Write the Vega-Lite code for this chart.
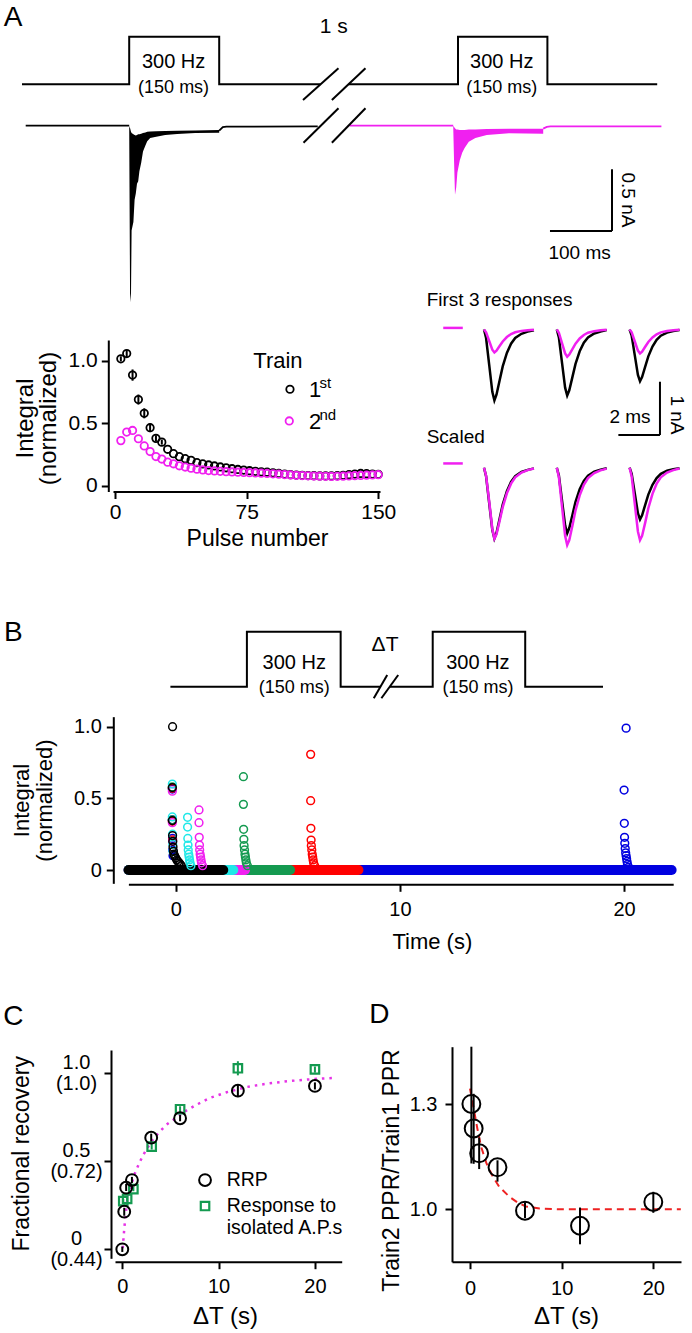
{
"$schema": "https://vega.github.io/schema/vega-lite/v6.json",
"width": 692, "height": 1333, "padding": 0, "autosize": {"type": "none"},
"background": "white",
"config": {
 "view": {"stroke": null},
 "font": "Liberation Sans",
 "axis": {"grid": false, "domainColor": "black", "tickColor": "black", "labelColor": "black", "titleColor": "black", "domainWidth": 2, "tickWidth": 2, "tickSize": 7, "labelFont": "Liberation Sans", "titleFont": "Liberation Sans", "titleFontWeight": "normal", "labelOverlap": false, "labelFlush": false, "titleAlign": "center", "titleBaseline": "middle"},
 "text": {"font": "Liberation Sans", "color": "black"}
},
"datasets": {
"a_stim": [
{"k":"ln","g":"s1","x":-178.7,"y":0},{"k":"ln","g":"s1","x":0,"y":0},{"k":"ln","g":"s1","x":0,"y":1},{"k":"ln","g":"s1","x":150,"y":1},{"k":"ln","g":"s1","x":150,"y":0},{"k":"ln","g":"s1","x":319,"y":0},
{"k":"ln","g":"s2","x":365.5,"y":0},{"k":"ln","g":"s2","x":548,"y":0},{"k":"ln","g":"s2","x":548,"y":1},{"k":"ln","g":"s2","x":697,"y":1},{"k":"ln","g":"s2","x":697,"y":0},{"k":"ln","g":"s2","x":880,"y":0},
{"k":"ln","g":"sl1","x":289.7,"y":-0.33},{"k":"ln","g":"sl1","x":348.8,"y":0.336},
{"k":"ln","g":"sl2","x":337.8,"y":-0.33},{"k":"ln","g":"sl2","x":393.8,"y":0.336},
{"k":"lab","txt":"A","x":-193.7,"y":1.39},
{"k":"big","txt":"1 s","x":341,"y":1.21},
{"k":"hz","txt":"300 Hz","x":74,"y":0.475},{"k":"hz","txt":"300 Hz","x":621,"y":0.475},
{"k":"ms","txt":"(150 ms)","x":74,"y":-0.07},{"k":"ms","txt":"(150 ms)","x":621,"y":-0.07}
],
"a_trace": [
{"k":"ln","tr":"1st","g":"bpre","x":-172.5,"y":0},{"k":"ln","tr":"1st","g":"bpre","x":0,"y":0},
{"k":"ln","tr":"1st","g":"bpost","x":150,"y":-0.04},{"k":"ln","tr":"1st","g":"bpost","x":156,"y":-0.012},{"k":"ln","tr":"1st","g":"bpost","x":162,"y":-0.008},{"k":"ln","tr":"1st","g":"bpost","x":314.2,"y":-0.006},
{"k":"ln","tr":"2nd","g":"mpre","x":367.3,"y":0},{"k":"ln","tr":"2nd","g":"mpre","x":540,"y":0},
{"k":"ln","tr":"2nd","g":"mpost","x":690,"y":-0.024},{"k":"ln","tr":"2nd","g":"mpost","x":696,"y":-0.01},{"k":"ln","tr":"2nd","g":"mpost","x":702,"y":-0.006},{"k":"ln","tr":"2nd","g":"mpost","x":887,"y":-0.005},
{"k":"ar","tr":"1st","x":0,"y":0,"y2":0},
{"k":"ar","tr":"1st","x":0.5,"y":-0.5,"y2":-0.01},
{"k":"ar","tr":"1st","x":1.5,"y":-1.43,"y2":-0.02},
{"k":"ar","tr":"1st","x":3,"y":-1.36,"y2":-0.05},
{"k":"ar","tr":"1st","x":4,"y":-0.85,"y2":-0.06},
{"k":"ar","tr":"1st","x":7,"y":-0.78,"y2":-0.07},
{"k":"ar","tr":"1st","x":9,"y":-0.6,"y2":-0.075},
{"k":"ar","tr":"1st","x":11,"y":-0.55,"y2":-0.08},
{"k":"ar","tr":"1st","x":13,"y":-0.47,"y2":-0.075},
{"k":"ar","tr":"1st","x":15,"y":-0.45,"y2":-0.07},
{"k":"ar","tr":"1st","x":17,"y":-0.37,"y2":-0.07},
{"k":"ar","tr":"1st","x":20,"y":-0.3,"y2":-0.065},
{"k":"ar","tr":"1st","x":23,"y":-0.21,"y2":-0.06},
{"k":"ar","tr":"1st","x":27,"y":-0.16,"y2":-0.055},
{"k":"ar","tr":"1st","x":30,"y":-0.125,"y2":-0.05},
{"k":"ar","tr":"1st","x":35,"y":-0.1,"y2":-0.048},
{"k":"ar","tr":"1st","x":45,"y":-0.09,"y2":-0.045},
{"k":"ar","tr":"1st","x":60,"y":-0.075,"y2":-0.043},
{"k":"ar","tr":"1st","x":80,"y":-0.067,"y2":-0.04},
{"k":"ar","tr":"1st","x":110,"y":-0.06,"y2":-0.038},
{"k":"ar","tr":"1st","x":150,"y":-0.057,"y2":-0.035},
{"k":"ar","tr":"2nd","x":540,"y":0,"y2":0},
{"k":"ar","tr":"2nd","x":541.5,"y":-0.3,"y2":-0.01},
{"k":"ar","tr":"2nd","x":543,"y":-0.56,"y2":-0.02},
{"k":"ar","tr":"2nd","x":545,"y":-0.5,"y2":-0.03},
{"k":"ar","tr":"2nd","x":547,"y":-0.38,"y2":-0.03},
{"k":"ar","tr":"2nd","x":551,"y":-0.28,"y2":-0.035},
{"k":"ar","tr":"2nd","x":555,"y":-0.22,"y2":-0.035},
{"k":"ar","tr":"2nd","x":559,"y":-0.18,"y2":-0.035},
{"k":"ar","tr":"2nd","x":566,"y":-0.13,"y2":-0.03},
{"k":"ar","tr":"2nd","x":577,"y":-0.1,"y2":-0.03},
{"k":"ar","tr":"2nd","x":596,"y":-0.075,"y2":-0.027},
{"k":"ar","tr":"2nd","x":633,"y":-0.062,"y2":-0.024},
{"k":"ar","tr":"2nd","x":690,"y":-0.065,"y2":-0.024},
{"k":"sl","g":"ls1","x":290.5,"y":-0.138},{"k":"sl","g":"ls1","x":348.8,"y":0.141},
{"k":"sl","g":"ls2","x":337.8,"y":-0.138},{"k":"sl","g":"ls2","x":393.8,"y":0.141},
{"k":"sb","x":804.7,"y":-0.353,"x2":804.7,"y2":-0.853},
{"k":"sb","x":701.3,"y":-0.853,"x2":804.7,"y2":-0.853},
{"k":"tv","txt":"0.5 nA","x":831.8,"y":-0.602},
{"k":"th","txt":"100 ms","x":750.7,"y":-1.034}
],
"a_sc": [
{"k":"pt","tr":"1st","x":3.33,"y":1.015},{"k":"pt","tr":"1st","x":6.67,"y":1.057},{"k":"pt","tr":"1st","x":10,"y":0.885},{"k":"pt","tr":"1st","x":13.33,"y":0.69},{"k":"pt","tr":"1st","x":16.67,"y":0.58},
{"k":"pt","tr":"1st","x":20,"y":0.465},{"k":"pt","tr":"1st","x":23.33,"y":0.38},{"k":"pt","tr":"1st","x":26.67,"y":0.35},{"k":"pt","tr":"1st","x":30,"y":0.293},{"k":"pt","tr":"1st","x":33.33,"y":0.258},
{"k":"pt","tr":"1st","x":36.67,"y":0.234},{"k":"pt","tr":"1st","x":40,"y":0.218},{"k":"pt","tr":"1st","x":43.33,"y":0.205},{"k":"pt","tr":"1st","x":46.67,"y":0.186},{"k":"pt","tr":"1st","x":50,"y":0.176},
{"k":"pt","tr":"1st","x":53.33,"y":0.168},{"k":"pt","tr":"1st","x":56.67,"y":0.16},{"k":"pt","tr":"1st","x":60,"y":0.152},{"k":"pt","tr":"1st","x":63.33,"y":0.145},{"k":"pt","tr":"1st","x":66.67,"y":0.138},
{"k":"pt","tr":"1st","x":70,"y":0.132},{"k":"pt","tr":"1st","x":73.33,"y":0.127},{"k":"pt","tr":"1st","x":76.67,"y":0.122},{"k":"pt","tr":"1st","x":80,"y":0.117},{"k":"pt","tr":"1st","x":83.33,"y":0.113},
{"k":"pt","tr":"1st","x":86.67,"y":0.11},{"k":"pt","tr":"1st","x":90,"y":0.105},{"k":"pt","tr":"1st","x":93.33,"y":0.1},{"k":"pt","tr":"1st","x":96.67,"y":0.095},{"k":"pt","tr":"1st","x":100,"y":0.09},
{"k":"pt","tr":"1st","x":103.33,"y":0.087},{"k":"pt","tr":"1st","x":106.67,"y":0.085},{"k":"pt","tr":"1st","x":110,"y":0.083},{"k":"pt","tr":"1st","x":113.33,"y":0.082},{"k":"pt","tr":"1st","x":116.67,"y":0.08},
{"k":"pt","tr":"1st","x":120,"y":0.08},{"k":"pt","tr":"1st","x":123.33,"y":0.08},{"k":"pt","tr":"1st","x":126.67,"y":0.082},{"k":"pt","tr":"1st","x":130,"y":0.085},{"k":"pt","tr":"1st","x":133.33,"y":0.09},
{"k":"pt","tr":"1st","x":136.67,"y":0.095},{"k":"pt","tr":"1st","x":140,"y":0.1},{"k":"pt","tr":"1st","x":143.33,"y":0.098},{"k":"pt","tr":"1st","x":146.67,"y":0.095},{"k":"pt","tr":"1st","x":150,"y":0.093},
{"k":"pt","tr":"2nd","x":3.33,"y":0.362},{"k":"pt","tr":"2nd","x":6.67,"y":0.43},{"k":"pt","tr":"2nd","x":10,"y":0.443},{"k":"pt","tr":"2nd","x":13.33,"y":0.377},{"k":"pt","tr":"2nd","x":16.67,"y":0.32},
{"k":"pt","tr":"2nd","x":20,"y":0.275},{"k":"pt","tr":"2nd","x":23.33,"y":0.235},{"k":"pt","tr":"2nd","x":26.67,"y":0.215},{"k":"pt","tr":"2nd","x":30,"y":0.19},{"k":"pt","tr":"2nd","x":33.33,"y":0.177},
{"k":"pt","tr":"2nd","x":36.67,"y":0.161},{"k":"pt","tr":"2nd","x":40,"y":0.151},{"k":"pt","tr":"2nd","x":43.33,"y":0.142},{"k":"pt","tr":"2nd","x":46.67,"y":0.134},{"k":"pt","tr":"2nd","x":50,"y":0.128},
{"k":"pt","tr":"2nd","x":53.33,"y":0.123},{"k":"pt","tr":"2nd","x":56.67,"y":0.12},{"k":"pt","tr":"2nd","x":60,"y":0.117},{"k":"pt","tr":"2nd","x":63.33,"y":0.114},{"k":"pt","tr":"2nd","x":66.67,"y":0.112},
{"k":"pt","tr":"2nd","x":70,"y":0.11},{"k":"pt","tr":"2nd","x":73.33,"y":0.108},{"k":"pt","tr":"2nd","x":76.67,"y":0.106},{"k":"pt","tr":"2nd","x":80,"y":0.104},{"k":"pt","tr":"2nd","x":83.33,"y":0.102},
{"k":"pt","tr":"2nd","x":86.67,"y":0.1},{"k":"pt","tr":"2nd","x":90,"y":0.097},{"k":"pt","tr":"2nd","x":93.33,"y":0.094},{"k":"pt","tr":"2nd","x":96.67,"y":0.091},{"k":"pt","tr":"2nd","x":100,"y":0.088},
{"k":"pt","tr":"2nd","x":103.33,"y":0.085},{"k":"pt","tr":"2nd","x":106.67,"y":0.083},{"k":"pt","tr":"2nd","x":110,"y":0.081},{"k":"pt","tr":"2nd","x":113.33,"y":0.079},{"k":"pt","tr":"2nd","x":116.67,"y":0.078},
{"k":"pt","tr":"2nd","x":120,"y":0.077},{"k":"pt","tr":"2nd","x":123.33,"y":0.076},{"k":"pt","tr":"2nd","x":126.67,"y":0.077},{"k":"pt","tr":"2nd","x":130,"y":0.078},{"k":"pt","tr":"2nd","x":133.33,"y":0.08},
{"k":"pt","tr":"2nd","x":136.67,"y":0.082},{"k":"pt","tr":"2nd","x":140,"y":0.084},{"k":"pt","tr":"2nd","x":143.33,"y":0.086},{"k":"pt","tr":"2nd","x":146.67,"y":0.088},{"k":"pt","tr":"2nd","x":150,"y":0.09},
{"k":"eb","tr":"1st","x":3.33,"y":0.995,"y2":1.035},{"k":"eb","tr":"1st","x":6.67,"y":1.027,"y2":1.087},{"k":"eb","tr":"1st","x":10,"y":0.84,"y2":0.93},{"k":"eb","tr":"1st","x":13.33,"y":0.65,"y2":0.73},
{"k":"eb","tr":"1st","x":16.67,"y":0.54,"y2":0.62},{"k":"eb","tr":"1st","x":20,"y":0.43,"y2":0.5},{"k":"eb","tr":"1st","x":23.33,"y":0.355,"y2":0.405},{"k":"eb","tr":"1st","x":26.67,"y":0.33,"y2":0.37},
{"k":"lg","tr":"1st","x":99.7,"y":0.772},{"k":"lg","tr":"2nd","x":99.3,"y":0.519},
{"k":"t21","txt":"Train","x":78.8,"y":1.0},{"k":"t21","txt":"1","x":110.5,"y":0.766},{"k":"t21","txt":"2","x":110.5,"y":0.513},
{"k":"sup","txt":"st","x":116.5,"y":0.82},{"k":"sup","txt":"nd","x":116.5,"y":0.567}
],
"a_sm1": [
{"k":"tr","tr":"1st","g":"k1","x":0,"y":0},{"k":"tr","tr":"1st","g":"k1","x":0.1,"y":-0.16},{"k":"tr","tr":"1st","g":"k1","x":0.25,"y":-0.665},{"k":"tr","tr":"1st","g":"k1","x":0.4,"y":-1.17},{"k":"tr","tr":"1st","g":"k1","x":0.5,"y":-1.33},{"k":"tr","tr":"1st","g":"k1","x":0.6,"y":-1.224},{"k":"tr","tr":"1st","g":"k1","x":0.75,"y":-0.958},{"k":"tr","tr":"1st","g":"k1","x":0.9,"y":-0.692},{"k":"tr","tr":"1st","g":"k1","x":1.1,"y":-0.439},{"k":"tr","tr":"1st","g":"k1","x":1.3,"y":-0.266},{"k":"tr","tr":"1st","g":"k1","x":1.5,"y":-0.16},{"k":"tr","tr":"1st","g":"k1","x":1.8,"y":-0.08},{"k":"tr","tr":"1st","g":"k1","x":2.1,"y":-0.04},{"k":"tr","tr":"1st","g":"k1","x":2.4,"y":-0.013},
{"k":"tr","tr":"1st","g":"k2","x":3.5,"y":0},{"k":"tr","tr":"1st","g":"k2","x":3.6,"y":-0.149},{"k":"tr","tr":"1st","g":"k2","x":3.75,"y":-0.62},{"k":"tr","tr":"1st","g":"k2","x":3.9,"y":-1.091},{"k":"tr","tr":"1st","g":"k2","x":4,"y":-1.24},{"k":"tr","tr":"1st","g":"k2","x":4.1,"y":-1.141},{"k":"tr","tr":"1st","g":"k2","x":4.25,"y":-0.893},{"k":"tr","tr":"1st","g":"k2","x":4.4,"y":-0.645},{"k":"tr","tr":"1st","g":"k2","x":4.6,"y":-0.409},{"k":"tr","tr":"1st","g":"k2","x":4.8,"y":-0.248},{"k":"tr","tr":"1st","g":"k2","x":5,"y":-0.149},{"k":"tr","tr":"1st","g":"k2","x":5.3,"y":-0.074},{"k":"tr","tr":"1st","g":"k2","x":5.6,"y":-0.037},{"k":"tr","tr":"1st","g":"k2","x":5.9,"y":-0.012},
{"k":"tr","tr":"1st","g":"k3","x":7,"y":0},{"k":"tr","tr":"1st","g":"k3","x":7.1,"y":-0.116},{"k":"tr","tr":"1st","g":"k3","x":7.25,"y":-0.485},{"k":"tr","tr":"1st","g":"k3","x":7.4,"y":-0.854},{"k":"tr","tr":"1st","g":"k3","x":7.5,"y":-0.97},{"k":"tr","tr":"1st","g":"k3","x":7.6,"y":-0.892},{"k":"tr","tr":"1st","g":"k3","x":7.75,"y":-0.698},{"k":"tr","tr":"1st","g":"k3","x":7.9,"y":-0.504},{"k":"tr","tr":"1st","g":"k3","x":8.1,"y":-0.32},{"k":"tr","tr":"1st","g":"k3","x":8.3,"y":-0.194},{"k":"tr","tr":"1st","g":"k3","x":8.5,"y":-0.116},{"k":"tr","tr":"1st","g":"k3","x":8.8,"y":-0.058},{"k":"tr","tr":"1st","g":"k3","x":9.1,"y":-0.029},{"k":"tr","tr":"1st","g":"k3","x":9.4,"y":-0.01},
{"k":"tr","tr":"2nd","g":"m1","x":0,"y":0},{"k":"tr","tr":"2nd","g":"m1","x":0.1,"y":-0.052},{"k":"tr","tr":"2nd","g":"m1","x":0.25,"y":-0.215},{"k":"tr","tr":"2nd","g":"m1","x":0.4,"y":-0.378},{"k":"tr","tr":"2nd","g":"m1","x":0.5,"y":-0.43},{"k":"tr","tr":"2nd","g":"m1","x":0.6,"y":-0.396},{"k":"tr","tr":"2nd","g":"m1","x":0.75,"y":-0.31},{"k":"tr","tr":"2nd","g":"m1","x":0.9,"y":-0.224},{"k":"tr","tr":"2nd","g":"m1","x":1.1,"y":-0.142},{"k":"tr","tr":"2nd","g":"m1","x":1.3,"y":-0.086},{"k":"tr","tr":"2nd","g":"m1","x":1.5,"y":-0.052},{"k":"tr","tr":"2nd","g":"m1","x":1.8,"y":-0.026},{"k":"tr","tr":"2nd","g":"m1","x":2.1,"y":-0.013},{"k":"tr","tr":"2nd","g":"m1","x":2.4,"y":-0.004},
{"k":"tr","tr":"2nd","g":"m2","x":3.5,"y":0},{"k":"tr","tr":"2nd","g":"m2","x":3.6,"y":-0.061},{"k":"tr","tr":"2nd","g":"m2","x":3.75,"y":-0.255},{"k":"tr","tr":"2nd","g":"m2","x":3.9,"y":-0.449},{"k":"tr","tr":"2nd","g":"m2","x":4,"y":-0.51},{"k":"tr","tr":"2nd","g":"m2","x":4.1,"y":-0.469},{"k":"tr","tr":"2nd","g":"m2","x":4.25,"y":-0.367},{"k":"tr","tr":"2nd","g":"m2","x":4.4,"y":-0.265},{"k":"tr","tr":"2nd","g":"m2","x":4.6,"y":-0.168},{"k":"tr","tr":"2nd","g":"m2","x":4.8,"y":-0.102},{"k":"tr","tr":"2nd","g":"m2","x":5,"y":-0.061},{"k":"tr","tr":"2nd","g":"m2","x":5.3,"y":-0.031},{"k":"tr","tr":"2nd","g":"m2","x":5.6,"y":-0.015},{"k":"tr","tr":"2nd","g":"m2","x":5.9,"y":-0.005},
{"k":"tr","tr":"2nd","g":"m3","x":7,"y":0},{"k":"tr","tr":"2nd","g":"m3","x":7.1,"y":-0.054},{"k":"tr","tr":"2nd","g":"m3","x":7.25,"y":-0.225},{"k":"tr","tr":"2nd","g":"m3","x":7.4,"y":-0.396},{"k":"tr","tr":"2nd","g":"m3","x":7.5,"y":-0.45},{"k":"tr","tr":"2nd","g":"m3","x":7.6,"y":-0.414},{"k":"tr","tr":"2nd","g":"m3","x":7.75,"y":-0.324},{"k":"tr","tr":"2nd","g":"m3","x":7.9,"y":-0.234},{"k":"tr","tr":"2nd","g":"m3","x":8.1,"y":-0.149},{"k":"tr","tr":"2nd","g":"m3","x":8.3,"y":-0.09},{"k":"tr","tr":"2nd","g":"m3","x":8.5,"y":-0.054},{"k":"tr","tr":"2nd","g":"m3","x":8.8,"y":-0.027},{"k":"tr","tr":"2nd","g":"m3","x":9.1,"y":-0.014},{"k":"tr","tr":"2nd","g":"m3","x":9.4,"y":-0.005},
{"k":"ds","tr":"2nd","g":"d","x":-1.96,"y":0.03},{"k":"ds","tr":"2nd","g":"d","x":-1.02,"y":0.03},
{"k":"sb","x":8.46,"y":-0.98,"x2":8.46,"y2":-1.98},
{"k":"sb","x":6.46,"y":-1.98,"x2":8.46,"y2":-1.98},
{"k":"tl","txt":"First 3 responses","x":-2.755,"y":0.553},
{"k":"th","txt":"2 ms","x":7.02,"y":-1.636},
{"k":"tv","txt":"1 nA","x":9.26,"y":-1.604}
],
"a_sm2": [
{"k":"tr","tr":"1st","g":"k1","x":0,"y":0},{"k":"tr","tr":"1st","g":"k1","x":0.1,"y":-0.16},{"k":"tr","tr":"1st","g":"k1","x":0.25,"y":-0.665},{"k":"tr","tr":"1st","g":"k1","x":0.4,"y":-1.17},{"k":"tr","tr":"1st","g":"k1","x":0.5,"y":-1.33},{"k":"tr","tr":"1st","g":"k1","x":0.6,"y":-1.224},{"k":"tr","tr":"1st","g":"k1","x":0.75,"y":-0.958},{"k":"tr","tr":"1st","g":"k1","x":0.9,"y":-0.692},{"k":"tr","tr":"1st","g":"k1","x":1.1,"y":-0.439},{"k":"tr","tr":"1st","g":"k1","x":1.3,"y":-0.266},{"k":"tr","tr":"1st","g":"k1","x":1.5,"y":-0.16},{"k":"tr","tr":"1st","g":"k1","x":1.8,"y":-0.08},{"k":"tr","tr":"1st","g":"k1","x":2.1,"y":-0.04},{"k":"tr","tr":"1st","g":"k1","x":2.4,"y":-0.013},
{"k":"tr","tr":"1st","g":"k2","x":3.5,"y":0},{"k":"tr","tr":"1st","g":"k2","x":3.6,"y":-0.148},{"k":"tr","tr":"1st","g":"k2","x":3.75,"y":-0.615},{"k":"tr","tr":"1st","g":"k2","x":3.9,"y":-1.082},{"k":"tr","tr":"1st","g":"k2","x":4,"y":-1.23},{"k":"tr","tr":"1st","g":"k2","x":4.1,"y":-1.132},{"k":"tr","tr":"1st","g":"k2","x":4.25,"y":-0.886},{"k":"tr","tr":"1st","g":"k2","x":4.4,"y":-0.64},{"k":"tr","tr":"1st","g":"k2","x":4.6,"y":-0.406},{"k":"tr","tr":"1st","g":"k2","x":4.8,"y":-0.246},{"k":"tr","tr":"1st","g":"k2","x":5,"y":-0.148},{"k":"tr","tr":"1st","g":"k2","x":5.3,"y":-0.074},{"k":"tr","tr":"1st","g":"k2","x":5.6,"y":-0.037},{"k":"tr","tr":"1st","g":"k2","x":5.9,"y":-0.012},
{"k":"tr","tr":"1st","g":"k3","x":7,"y":0},{"k":"tr","tr":"1st","g":"k3","x":7.1,"y":-0.116},{"k":"tr","tr":"1st","g":"k3","x":7.25,"y":-0.485},{"k":"tr","tr":"1st","g":"k3","x":7.4,"y":-0.854},{"k":"tr","tr":"1st","g":"k3","x":7.5,"y":-0.97},{"k":"tr","tr":"1st","g":"k3","x":7.6,"y":-0.892},{"k":"tr","tr":"1st","g":"k3","x":7.75,"y":-0.698},{"k":"tr","tr":"1st","g":"k3","x":7.9,"y":-0.504},{"k":"tr","tr":"1st","g":"k3","x":8.1,"y":-0.32},{"k":"tr","tr":"1st","g":"k3","x":8.3,"y":-0.194},{"k":"tr","tr":"1st","g":"k3","x":8.5,"y":-0.116},{"k":"tr","tr":"1st","g":"k3","x":8.8,"y":-0.058},{"k":"tr","tr":"1st","g":"k3","x":9.1,"y":-0.029},{"k":"tr","tr":"1st","g":"k3","x":9.4,"y":-0.01},
{"k":"tr","tr":"2nd","g":"m1","x":0,"y":0},{"k":"tr","tr":"2nd","g":"m1","x":0.1,"y":-0.15},{"k":"tr","tr":"2nd","g":"m1","x":0.25,"y":-0.63},{"k":"tr","tr":"2nd","g":"m1","x":0.4,"y":-1.15},{"k":"tr","tr":"2nd","g":"m1","x":0.5,"y":-1.33},{"k":"tr","tr":"2nd","g":"m1","x":0.6,"y":-1.25},{"k":"tr","tr":"2nd","g":"m1","x":0.75,"y":-1.0},{"k":"tr","tr":"2nd","g":"m1","x":0.9,"y":-0.74},{"k":"tr","tr":"2nd","g":"m1","x":1.1,"y":-0.48},{"k":"tr","tr":"2nd","g":"m1","x":1.3,"y":-0.3},{"k":"tr","tr":"2nd","g":"m1","x":1.5,"y":-0.18},{"k":"tr","tr":"2nd","g":"m1","x":1.8,"y":-0.09},{"k":"tr","tr":"2nd","g":"m1","x":2.1,"y":-0.045},{"k":"tr","tr":"2nd","g":"m1","x":2.4,"y":-0.015},
{"k":"tr","tr":"2nd","g":"m2","x":3.5,"y":0},{"k":"tr","tr":"2nd","g":"m2","x":3.6,"y":-0.174},{"k":"tr","tr":"2nd","g":"m2","x":3.75,"y":-0.725},{"k":"tr","tr":"2nd","g":"m2","x":3.9,"y":-1.276},{"k":"tr","tr":"2nd","g":"m2","x":4,"y":-1.45},{"k":"tr","tr":"2nd","g":"m2","x":4.1,"y":-1.36},{"k":"tr","tr":"2nd","g":"m2","x":4.25,"y":-1.09},{"k":"tr","tr":"2nd","g":"m2","x":4.4,"y":-0.8},{"k":"tr","tr":"2nd","g":"m2","x":4.6,"y":-0.52},{"k":"tr","tr":"2nd","g":"m2","x":4.8,"y":-0.32},{"k":"tr","tr":"2nd","g":"m2","x":5,"y":-0.195},{"k":"tr","tr":"2nd","g":"m2","x":5.3,"y":-0.1},{"k":"tr","tr":"2nd","g":"m2","x":5.6,"y":-0.05},{"k":"tr","tr":"2nd","g":"m2","x":5.9,"y":-0.017},
{"k":"tr","tr":"2nd","g":"m3","x":7,"y":0},{"k":"tr","tr":"2nd","g":"m3","x":7.1,"y":-0.163},{"k":"tr","tr":"2nd","g":"m3","x":7.25,"y":-0.68},{"k":"tr","tr":"2nd","g":"m3","x":7.4,"y":-1.197},{"k":"tr","tr":"2nd","g":"m3","x":7.5,"y":-1.36},{"k":"tr","tr":"2nd","g":"m3","x":7.6,"y":-1.28},{"k":"tr","tr":"2nd","g":"m3","x":7.75,"y":-1.03},{"k":"tr","tr":"2nd","g":"m3","x":7.9,"y":-0.76},{"k":"tr","tr":"2nd","g":"m3","x":8.1,"y":-0.49},{"k":"tr","tr":"2nd","g":"m3","x":8.3,"y":-0.3},{"k":"tr","tr":"2nd","g":"m3","x":8.5,"y":-0.18},{"k":"tr","tr":"2nd","g":"m3","x":8.8,"y":-0.092},{"k":"tr","tr":"2nd","g":"m3","x":9.1,"y":-0.046},{"k":"tr","tr":"2nd","g":"m3","x":9.4,"y":-0.016},
{"k":"ds","tr":"2nd","g":"d","x":-1.96,"y":0.08},{"k":"ds","tr":"2nd","g":"d","x":-1.02,"y":0.08},
{"k":"tl","txt":"Scaled","x":-2.755,"y":0.58}
],
"b_stim": [
{"k":"ln","g":"s1","x":-122.4,"y":0},{"k":"ln","g":"s1","x":0,"y":0},{"k":"ln","g":"s1","x":0,"y":1},{"k":"ln","g":"s1","x":150,"y":1},{"k":"ln","g":"s1","x":150,"y":0},{"k":"ln","g":"s1","x":214.6,"y":0},
{"k":"ln","g":"s2","x":228.7,"y":0},{"k":"ln","g":"s2","x":297.3,"y":0},{"k":"ln","g":"s2","x":297.3,"y":1},{"k":"ln","g":"s2","x":445.3,"y":1},{"k":"ln","g":"s2","x":445.3,"y":0},{"k":"ln","g":"s2","x":569.8,"y":0},
{"k":"ln","g":"sl1","x":203,"y":-0.21},{"k":"ln","g":"sl1","x":224.5,"y":0.213},
{"k":"ln","g":"sl2","x":215.2,"y":-0.21},{"k":"ln","g":"sl2","x":242.1,"y":0.213},
{"k":"lab","txt":"B","x":-373.8,"y":0.97},
{"k":"big","txt":"ΔT","x":221,"y":0.758},
{"k":"hz","txt":"300 Hz","x":75.7,"y":0.425},{"k":"hz","txt":"300 Hz","x":369.6,"y":0.425},
{"k":"ms","txt":"(150 ms)","x":75.7,"y":-0.03},{"k":"ms","txt":"(150 ms)","x":369.6,"y":-0.03}
],
"b_sc": [
{"k":"bd","s":"b","x":-2.1,"x2":22.12,"y":0},
{"k":"bd","s":"r","x":-2.1,"x2":8.15,"y":0},
{"k":"bd","s":"g","x":-2.1,"x2":5.1,"y":0},
{"k":"bd","s":"m","x":-2.1,"x2":3.09,"y":0},
{"k":"bd","s":"c","x":-2.1,"x2":2.57,"y":0},
{"k":"bd","s":"k","x":-2.1,"x2":2.12,"y":0},
{"k":"pt","s":"b","x":-0.15,"y":0.565},{"k":"pt","s":"b","x":-0.15,"y":0.35},{"k":"pt","s":"b","x":-0.14,"y":0.22},{"k":"pt","s":"b","x":-0.13,"y":0.14},{"k":"pt","s":"b","x":-0.12,"y":0.1},
{"k":"pt","s":"b","x":20.09,"y":0.99},{"k":"pt","s":"b","x":20.0,"y":0.558},{"k":"pt","s":"b","x":20.01,"y":0.326},{"k":"pt","s":"b","x":20.02,"y":0.228},{"k":"pt","s":"b","x":20.03,"y":0.186},{"k":"pt","s":"b","x":20.05,"y":0.15},{"k":"pt","s":"b","x":20.07,"y":0.12},{"k":"pt","s":"b","x":20.09,"y":0.1},{"k":"pt","s":"b","x":20.11,"y":0.08},{"k":"pt","s":"b","x":20.13,"y":0.06},{"k":"pt","s":"b","x":20.15,"y":0.04},{"k":"pt","s":"b","x":20.2,"y":0.02},
{"k":"pt","s":"r","x":-0.15,"y":0.57},{"k":"pt","s":"r","x":-0.15,"y":0.34},{"k":"pt","s":"r","x":-0.14,"y":0.21},
{"k":"pt","s":"r","x":6.02,"y":0.807},{"k":"pt","s":"r","x":6.02,"y":0.484},{"k":"pt","s":"r","x":6.03,"y":0.291},{"k":"pt","s":"r","x":6.04,"y":0.209},{"k":"pt","s":"r","x":6.05,"y":0.17},{"k":"pt","s":"r","x":6.07,"y":0.14},{"k":"pt","s":"r","x":6.09,"y":0.11},{"k":"pt","s":"r","x":6.11,"y":0.09},{"k":"pt","s":"r","x":6.13,"y":0.07},{"k":"pt","s":"r","x":6.15,"y":0.05},{"k":"pt","s":"r","x":6.2,"y":0.03},
{"k":"pt","s":"g","x":-0.15,"y":0.58},{"k":"pt","s":"g","x":-0.15,"y":0.35},
{"k":"pt","s":"g","x":3.02,"y":0.651},{"k":"pt","s":"g","x":3.02,"y":0.458},{"k":"pt","s":"g","x":3.03,"y":0.284},{"k":"pt","s":"g","x":3.04,"y":0.214},{"k":"pt","s":"g","x":3.05,"y":0.17},{"k":"pt","s":"g","x":3.07,"y":0.14},{"k":"pt","s":"g","x":3.09,"y":0.11},{"k":"pt","s":"g","x":3.11,"y":0.09},{"k":"pt","s":"g","x":3.13,"y":0.07},{"k":"pt","s":"g","x":3.15,"y":0.05},{"k":"pt","s":"g","x":3.2,"y":0.03},
{"k":"pt","s":"m","x":-0.15,"y":0.55},{"k":"pt","s":"m","x":-0.15,"y":0.33},{"k":"pt","s":"m","x":-0.14,"y":0.2},
{"k":"pt","s":"m","x":1.04,"y":0.419},{"k":"pt","s":"m","x":1.04,"y":0.33},{"k":"pt","s":"m","x":1.05,"y":0.228},{"k":"pt","s":"m","x":1.06,"y":0.174},{"k":"pt","s":"m","x":1.07,"y":0.14},{"k":"pt","s":"m","x":1.09,"y":0.11},{"k":"pt","s":"m","x":1.11,"y":0.09},{"k":"pt","s":"m","x":1.13,"y":0.07},{"k":"pt","s":"m","x":1.15,"y":0.05},{"k":"pt","s":"m","x":1.2,"y":0.03},
{"k":"pt","s":"c","x":-0.15,"y":0.6},{"k":"pt","s":"c","x":-0.15,"y":0.37},{"k":"pt","s":"c","x":-0.14,"y":0.25},{"k":"pt","s":"c","x":-0.13,"y":0.18},{"k":"pt","s":"c","x":-0.12,"y":0.13},
{"k":"pt","s":"c","x":0.53,"y":0.368},{"k":"pt","s":"c","x":0.53,"y":0.3},{"k":"pt","s":"c","x":0.54,"y":0.22},{"k":"pt","s":"c","x":0.55,"y":0.174},{"k":"pt","s":"c","x":0.56,"y":0.14},{"k":"pt","s":"c","x":0.58,"y":0.11},{"k":"pt","s":"c","x":0.6,"y":0.09},{"k":"pt","s":"c","x":0.62,"y":0.07},{"k":"pt","s":"c","x":0.64,"y":0.05},{"k":"pt","s":"c","x":0.68,"y":0.03},
{"k":"pt","s":"k","x":-0.14,"y":1.0},{"k":"pt","s":"k","x":-0.15,"y":0.575},{"k":"pt","s":"k","x":-0.15,"y":0.345},{"k":"pt","s":"k","x":-0.14,"y":0.24},{"k":"pt","s":"k","x":-0.13,"y":0.2},{"k":"pt","s":"k","x":-0.12,"y":0.16},{"k":"pt","s":"k","x":-0.1,"y":0.13},{"k":"pt","s":"k","x":-0.08,"y":0.11},{"k":"pt","s":"k","x":-0.05,"y":0.1},{"k":"pt","s":"k","x":0,"y":0.085},{"k":"pt","s":"k","x":0.05,"y":0.07},{"k":"pt","s":"k","x":0.1,"y":0.06},{"k":"pt","s":"k","x":0.15,"y":0.05},{"k":"pt","s":"k","x":0.2,"y":0.04},{"k":"pt","s":"k","x":0.25,"y":0.03}
],
"c": [
{"k":"fit","x":0.04,"y":0.006},{"k":"fit","x":0.18,"y":0.1},{"k":"fit","x":0.32,"y":0.185},{"k":"fit","x":0.56,"y":0.3},{"k":"fit","x":0.87,"y":0.357},{"k":"fit","x":1.32,"y":0.432},{"k":"fit","x":1.77,"y":0.489},{"k":"fit","x":2.19,"y":0.536},{"k":"fit","x":2.71,"y":0.583},{"k":"fit","x":3.29,"y":0.63},{"k":"fit","x":3.91,"y":0.668},{"k":"fit","x":4.61,"y":0.706},{"k":"fit","x":5.3,"y":0.734},{"k":"fit","x":6.51,"y":0.781},{"k":"fit","x":7.72,"y":0.819},{"k":"fit","x":9.1,"y":0.857},{"k":"fit","x":10.83,"y":0.889},{"k":"fit","x":12.91,"y":0.919},{"k":"fit","x":14.99,"y":0.938},{"k":"fit","x":17.41,"y":0.953},{"k":"fit","x":19.84,"y":0.964},{"k":"fit","x":21.92,"y":0.97},
{"k":"ebg","x":0.1,"y":0.261,"y2":0.285},{"k":"ebg","x":0.5,"y":0.273,"y2":0.297},{"k":"ebg","x":1.15,"y":0.329,"y2":0.353},{"k":"ebg","x":3.05,"y":0.565,"y2":0.6},{"k":"ebg","x":6,"y":0.775,"y2":0.81},{"k":"ebg","x":12,"y":0.985,"y2":1.065},{"k":"ebg","x":20,"y":1.0,"y2":1.035},
{"k":"sq","x":0.1,"y":0.273},{"k":"sq","x":0.5,"y":0.285},{"k":"sq","x":1.15,"y":0.341},{"k":"sq","x":3.05,"y":0.581},{"k":"sq","x":6,"y":0.793},{"k":"sq","x":12,"y":1.025},{"k":"sq","x":20,"y":1.019},
{"k":"ebk","x":0,"y":-0.015,"y2":0.015},{"k":"ebk","x":0.2,"y":0.19,"y2":0.235},{"k":"ebk","x":0.4,"y":0.33,"y2":0.37},{"k":"ebk","x":1,"y":0.375,"y2":0.41},{"k":"ebk","x":3,"y":0.61,"y2":0.655},{"k":"ebk","x":6,"y":0.725,"y2":0.76},{"k":"ebk","x":12,"y":0.862,"y2":0.935},{"k":"ebk","x":20,"y":0.905,"y2":0.945},
{"k":"rrp","x":0,"y":0.0},{"k":"rrp","x":0.2,"y":0.213},{"k":"rrp","x":0.4,"y":0.349},{"k":"rrp","x":1,"y":0.392},{"k":"rrp","x":3,"y":0.632},{"k":"rrp","x":6,"y":0.742},{"k":"rrp","x":12,"y":0.898},{"k":"rrp","x":20,"y":0.925},
{"k":"lgc","x":8.59,"y":0.392},{"k":"lgs","x":8.59,"y":0.245},
{"k":"t19","txt":"RRP","x":10.84,"y":0.392},{"k":"t19","txt":"Response to","x":10.84,"y":0.245},{"k":"t19","txt":"isolated A.P.s","x":10.84,"y":0.119},
{"k":"lab","txt":"C","x":-11.32,"y":1.317}
],
"d": [
{"k":"fit","x":0,"y":1.345},{"k":"fit","x":0.5,"y":1.274},{"k":"fit","x":0.8,"y":1.231},{"k":"fit","x":1.2,"y":1.18},{"k":"fit","x":1.8,"y":1.131},{"k":"fit","x":2.5,"y":1.093},{"k":"fit","x":3.2,"y":1.064},{"k":"fit","x":4.3,"y":1.036},{"k":"fit","x":5.2,"y":1.019},{"k":"fit","x":6.1,"y":1.008},{"k":"fit","x":7.6,"y":1.002},{"k":"fit","x":10,"y":1.0},{"k":"fit","x":23,"y":1.0},
{"k":"eb","x":0.15,"y":1.131,"y2":1.4646},{"k":"eb","x":0.4,"y":1.13,"y2":1.33},{"k":"eb","x":1,"y":1.115,"y2":1.205},{"k":"eb","x":3,"y":1.079,"y2":1.14},{"k":"eb","x":6,"y":0.975,"y2":1.02},{"k":"eb","x":12,"y":0.9,"y2":1.005},{"k":"eb","x":20,"y":0.99,"y2":1.05},
{"k":"pt","x":0.15,"y":1.301},{"k":"pt","x":0.4,"y":1.231},{"k":"pt","x":1,"y":1.16},{"k":"pt","x":3,"y":1.12},{"k":"pt","x":6,"y":0.996},{"k":"pt","x":12,"y":0.953},{"k":"pt","x":20,"y":1.021},
{"k":"lab","txt":"D","x":-9.89,"y":1.555}
]
},
"layer": [
{
 "data": {"name": "a_stim"},
 "encoding": {
  "x": {"field":"x","type":"quantitative","scale":{"domain":[-200,900],"range":[9.2,669.2],"nice":false,"zero":false},"axis":null},
  "y": {"field":"y","type":"quantitative","scale":{"domain":[0,1],"range":[84.3,36.7],"nice":false,"zero":false},"axis":null}
 },
 "layer": [
  {"transform":[{"filter":"datum.k == 'ln'"}],"mark":{"type":"line","color":"black","strokeWidth":2},"encoding":{"detail":{"field":"g","type":"nominal"},"order":{"value":null}}},
  {"transform":[{"filter":"datum.k == 'lab'"}],"mark":{"type":"text","fontSize":28},"encoding":{"text":{"field":"txt"}}},
  {"transform":[{"filter":"datum.k == 'big'"}],"mark":{"type":"text","fontSize":21},"encoding":{"text":{"field":"txt"}}},
  {"transform":[{"filter":"datum.k == 'hz'"}],"mark":{"type":"text","fontSize":20},"encoding":{"text":{"field":"txt"}}},
  {"transform":[{"filter":"datum.k == 'ms'"}],"mark":{"type":"text","fontSize":18},"encoding":{"text":{"field":"txt"}}}
 ]
},
{
 "data": {"name": "a_trace"},
 "encoding": {
  "x": {"field":"x","type":"quantitative","scale":{"domain":[-200,900],"range":[9.2,669.2],"nice":false,"zero":false},"axis":null},
  "y": {"field":"y","type":"quantitative","scale":{"domain":[-1.5,0.5],"range":[310.8,64],"nice":false,"zero":false},"axis":null}
 },
 "layer": [
  {"transform":[{"filter":"datum.k == 'ln'"}],"mark":{"type":"line","strokeWidth":1.8},"encoding":{"detail":{"field":"g","type":"nominal"},"color":{"field":"tr","type":"nominal","scale":{"domain":["1st","2nd"],"range":["#000000","#f020f0"]},"legend":null}}},
  {"transform":[{"filter":"datum.k == 'ar'"}],"mark":{"type":"area","opacity":1,"line":false},"encoding":{"y2":{"field":"y2"},"color":{"field":"tr","type":"nominal","scale":{"domain":["1st","2nd"],"range":["#000000","#f020f0"]},"legend":null}}},
  {"transform":[{"filter":"datum.k == 'sl'"}],"mark":{"type":"line","color":"black","strokeWidth":2},"encoding":{"detail":{"field":"g","type":"nominal"}}},
  {"transform":[{"filter":"datum.k == 'sb'"}],"mark":{"type":"rule","color":"black","strokeWidth":2},"encoding":{"x2":{"field":"x2"},"y2":{"field":"y2"}}},
  {"transform":[{"filter":"datum.k == 'tv'"}],"mark":{"type":"text","fontSize":19,"angle":90},"encoding":{"text":{"field":"txt"}}},
  {"transform":[{"filter":"datum.k == 'th'"}],"mark":{"type":"text","fontSize":19},"encoding":{"text":{"field":"txt"}}}
 ]
},
{
 "data": {"name": "a_sc"},
 "encoding": {
  "x": {"field":"x","type":"quantitative","scale":{"domain":[-1.14,151],"range":[113,380],"nice":false,"zero":false},
        "axis":{"orient":"bottom","offset":-841.5,"values":[0,75,150],"labelFontSize":21,"labelPadding":3,"title":"Pulse number","titleFontSize":23,"titleX":257,"titleY":47}},
  "y": {"field":"y","type":"quantitative","scale":{"domain":[-0.044,1.165],"range":[491.5,340],"nice":false,"zero":false},
        "axis":{"orient":"left","offset":-108.3,"values":[0,0.5,1],"labelExpr":"datum.value == 0 ? '0' : format(datum.value, '.1f')","labelFontSize":21,"labelPadding":4,"title":["Integral","(normalized)"],"titleFontSize":24,"titleLineHeight":23,"titleX":-83.3,"titleY":418}}
 },
 "layer": [
  {"transform":[{"filter":"datum.k == 'eb'"}],"mark":{"type":"rule","color":"black","strokeWidth":2},"encoding":{"y2":{"field":"y2"}}},
  {"transform":[{"filter":"datum.k == 'pt' || datum.k == 'lg'"}],"mark":{"type":"point","shape":"circle","filled":false,"size":55,"strokeWidth":1.8,"opacity":1},"encoding":{"color":{"field":"tr","type":"nominal","scale":{"domain":["1st","2nd"],"range":["#000000","#f020f0"]},"legend":null}}},
  {"transform":[{"filter":"datum.k == 't21'"}],"mark":{"type":"text","fontSize":22,"align":"left"},"encoding":{"text":{"field":"txt"}}},
  {"transform":[{"filter":"datum.k == 'sup'"}],"mark":{"type":"text","fontSize":15,"align":"left"},"encoding":{"text":{"field":"txt"}}}
 ]
},
{
 "data": {"name": "a_sm1"},
 "encoding": {
  "x": {"field":"x","type":"quantitative","scale":{"domain":[-3,9],"range":[421.6,671.2],"nice":false,"zero":false},"axis":null},
  "y": {"field":"y","type":"quantitative","scale":{"domain":[-2.2,0.6],"range":[446.76,297.52],"nice":false,"zero":false},"axis":null}
 },
 "layer": [
  {"transform":[{"filter":"datum.k == 'tr' || datum.k == 'ds'"}],"mark":{"type":"line","strokeWidth":2.5},"encoding":{"detail":{"field":"g","type":"nominal"},"color":{"field":"tr","type":"nominal","scale":{"domain":["1st","2nd"],"range":["#000000","#f020f0"]},"legend":null}}},
  {"transform":[{"filter":"datum.k == 'sb'"}],"mark":{"type":"rule","color":"black","strokeWidth":2},"encoding":{"x2":{"field":"x2"},"y2":{"field":"y2"}}},
  {"transform":[{"filter":"datum.k == 'tl'"}],"mark":{"type":"text","fontSize":19,"align":"left"},"encoding":{"text":{"field":"txt"}}},
  {"transform":[{"filter":"datum.k == 'th'"}],"mark":{"type":"text","fontSize":19},"encoding":{"text":{"field":"txt"}}},
  {"transform":[{"filter":"datum.k == 'tv'"}],"mark":{"type":"text","fontSize":19,"angle":90},"encoding":{"text":{"field":"txt"}}}
 ]
},
{
 "data": {"name": "a_sm2"},
 "encoding": {
  "x": {"field":"x","type":"quantitative","scale":{"domain":[-3,9],"range":[421.6,671.2],"nice":false,"zero":false},"axis":null},
  "y": {"field":"y","type":"quantitative","scale":{"domain":[-1.6,0.6],"range":[552.98,435.72],"nice":false,"zero":false},"axis":null}
 },
 "layer": [
  {"transform":[{"filter":"datum.k == 'tr' || datum.k == 'ds'"}],"mark":{"type":"line","strokeWidth":2.5},"encoding":{"detail":{"field":"g","type":"nominal"},"color":{"field":"tr","type":"nominal","scale":{"domain":["1st","2nd"],"range":["#000000","#f020f0"]},"legend":null}}},
  {"transform":[{"filter":"datum.k == 'tl'"}],"mark":{"type":"text","fontSize":19,"align":"left"},"encoding":{"text":{"field":"txt"}}}
 ]
},
{
 "data": {"name": "b_stim"},
 "encoding": {
  "x": {"field":"x","type":"quantitative","scale":{"domain":[-400,600],"range":[-3.1,621.9],"nice":false,"zero":false},"axis":null},
  "y": {"field":"y","type":"quantitative","scale":{"domain":[0,1],"range":[686.7,631.7],"nice":false,"zero":false},"axis":null}
 },
 "layer": [
  {"transform":[{"filter":"datum.k == 'ln'"}],"mark":{"type":"line","color":"black","strokeWidth":2},"encoding":{"detail":{"field":"g","type":"nominal"},"order":{"value":null}}},
  {"transform":[{"filter":"datum.k == 'lab'"}],"mark":{"type":"text","fontSize":28},"encoding":{"text":{"field":"txt"}}},
  {"transform":[{"filter":"datum.k == 'big'"}],"mark":{"type":"text","fontSize":21},"encoding":{"text":{"field":"txt"}}},
  {"transform":[{"filter":"datum.k == 'hz'"}],"mark":{"type":"text","fontSize":20},"encoding":{"text":{"field":"txt"}}},
  {"transform":[{"filter":"datum.k == 'ms'"}],"mark":{"type":"text","fontSize":18},"encoding":{"text":{"field":"txt"}}}
 ]
},
{
 "data": {"name": "b_sc"},
 "encoding": {
  "x": {"field":"x","type":"quantitative","scale":{"domain":[-2.11,22.19],"range":[128.39,673.2],"nice":false,"zero":false},
        "axis":{"orient":"bottom","offset":-448.7,"values":[0,10,20],"labelFontSize":20,"labelPadding":8,"title":"Time (s)","titleFontSize":22,"titleX":431.8,"titleY":57.4}},
  "y": {"field":"y","type":"quantitative","scale":{"domain":[-0.093,1.07],"range":[883.33,716.67],"nice":false,"zero":false},
        "axis":{"orient":"left","offset":-113.3,"values":[0,0.5,1],"labelExpr":"datum.value == 0 ? '0' : format(datum.value, '.1f')","labelFontSize":20,"labelPadding":5,"title":["Integral","(normalized)"],"titleFontSize":22,"titleLineHeight":23,"titleX":-91.6,"titleY":800}},
  "color": {"field":"s","type":"nominal","scale":{"domain":["k","c","m","g","r","b"],"range":["#000000","#20e8e8","#f020f0","#149a50","#ff0000","#0000e0"]},"legend":null}
 },
 "layer": [
  {"transform":[{"filter":"datum.k == 'bd'"}],"mark":{"type":"rule","strokeWidth":10,"strokeCap":"round"},"encoding":{"x2":{"field":"x2"}}},
  {"transform":[{"filter":"datum.k == 'pt'"}],"mark":{"type":"point","shape":"circle","filled":false,"size":60,"strokeWidth":1.5,"opacity":1}}
 ]
},
{
 "data": {"name": "c"},
 "encoding": {
  "x": {"field":"x","type":"quantitative","scale":{"domain":[-0.758,22.78],"range":[115,341.7],"nice":false,"zero":false},
        "axis":{"orient":"bottom","offset":-71.3,"values":[0,10,20],"labelFontSize":20,"labelPadding":8,"title":"ΔT (s)","titleFontSize":24,"titleX":225,"titleY":55}},
  "y": {"field":"y","type":"quantitative","scale":{"domain":[-0.051,1.1285],"range":[1258.3,1050],"nice":false,"zero":false},
        "axis":{"orient":"left","offset":-111,"values":[0,0.5,1],"labelExpr":"datum.value == 1 ? ['1.0', '(1.0)'] : datum.value == 0.5 ? ['0.5', '(0.72)'] : ['0', '(0.44)']","labelAlign":"center","labelBaseline":"middle","labelLineHeight":21,"labelOffset":-10.5,"labelFontSize":20,"labelPadding":28,"title":"Fractional recovery","titleFontSize":23,"titleX":-89.3,"titleY":1153.3}}
 },
 "layer": [
  {"transform":[{"filter":"datum.k == 'fit'"}],"mark":{"type":"line","color":"#e633e6","strokeWidth":2.5,"strokeDash":[2.5,5]}},
  {"transform":[{"filter":"datum.k == 'ebg'"}],"mark":{"type":"rule","color":"#149a50","strokeWidth":2},"encoding":{"y2":{"field":"y2"}}},
  {"transform":[{"filter":"datum.k == 'sq' || datum.k == 'lgs'"}],"mark":{"type":"point","shape":"square","filled":false,"size":72,"strokeWidth":2.2,"color":"#149a50","opacity":1}},
  {"transform":[{"filter":"datum.k == 'ebk'"}],"mark":{"type":"rule","color":"black","strokeWidth":2},"encoding":{"y2":{"field":"y2"}}},
  {"transform":[{"filter":"datum.k == 'rrp' || datum.k == 'lgc'"}],"mark":{"type":"point","shape":"circle","filled":false,"size":140,"strokeWidth":2,"color":"black","opacity":1}},
  {"transform":[{"filter":"datum.k == 't19'"}],"mark":{"type":"text","fontSize":19.5,"align":"left"},"encoding":{"text":{"field":"txt"}}},
  {"transform":[{"filter":"datum.k == 'lab'"}],"mark":{"type":"text","fontSize":28},"encoding":{"text":{"field":"txt"}}}
 ]
},
{
 "data": {"name": "d"},
 "encoding": {
  "x": {"field":"x","type":"quantitative","scale":{"domain":[-1.964,23.02],"range":[452,681],"nice":false,"zero":false},
        "axis":{"orient":"bottom","offset":-71.3,"values":[0,10,20],"labelFontSize":20,"labelPadding":9.5,"title":"ΔT (s)","titleFontSize":24,"titleX":566,"titleY":55}},
  "y": {"field":"y","type":"quantitative","scale":{"domain":[0.85,1.4646],"range":[1261.8,1046.7],"nice":false,"zero":false},
        "axis":{"orient":"left","offset":-452,"values":[1.0,1.3],"labelExpr":"format(datum.value, '.1f')","labelFontSize":20,"labelPadding":8,"title":"Train2 PPR/Train1 PPR","titleFontSize":23,"titleX":-61,"titleY":1170}}
 },
 "layer": [
  {"transform":[{"filter":"datum.k == 'fit'"}],"mark":{"type":"line","color":"#ee2222","strokeWidth":2,"strokeDash":[7,5]}},
  {"transform":[{"filter":"datum.k == 'eb'"}],"mark":{"type":"rule","color":"black","strokeWidth":2},"encoding":{"y2":{"field":"y2"}}},
  {"transform":[{"filter":"datum.k == 'pt'"}],"mark":{"type":"point","shape":"circle","filled":false,"size":320,"strokeWidth":2,"color":"black","opacity":1}},
  {"transform":[{"filter":"datum.k == 'lab'"}],"mark":{"type":"text","fontSize":28},"encoding":{"text":{"field":"txt"}}}
 ]
}
],
"resolve": {"scale": {"x": "independent", "y": "independent", "color": "independent"}}
}
